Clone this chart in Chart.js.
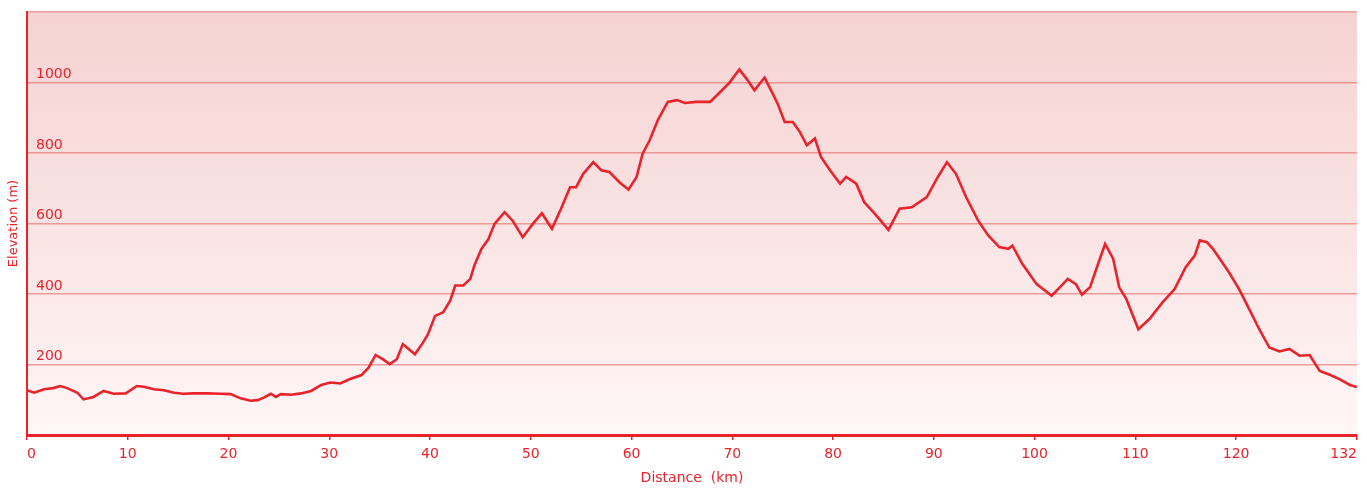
<!DOCTYPE html>
<html>
<head>
<meta charset="utf-8">
<title>Elevation profile</title>
<script src="https://cdn.jsdelivr.net/npm/chart.js@4/dist/chart.umd.min.js"></script>
<style>
  html, body { margin: 0; padding: 0; background: #ffffff; }
  #chart { display: block; }
</style>
</head>
<body>
<canvas id="chart" width="1367" height="488"></canvas>
<script>
// distance along the route (km) and elevation (m)
const distanceKm = [
  0, 0.7, 1.7, 2.6, 3.3, 4.0, 5.0, 5.6, 6.6, 7.6, 8.6, 9.8,
  10.9, 11.6, 12.6, 13.6, 14.6, 15.5, 16.5, 17.9, 19.2, 20.2, 21.2, 22.2,
  22.9, 23.5, 24.2, 24.7, 25.2, 26.2, 27.2, 28.2, 29.2, 30.1, 31.1, 32.0,
  33.2, 33.9, 34.6, 35.3, 36.0, 36.7, 37.3, 38.5, 39.3, 39.8, 40.5, 41.3,
  42.0, 42.5, 43.3, 44.0, 44.4, 45.1, 45.8, 46.4, 47.4, 48.2, 49.2, 50.2,
  51.1, 52.1, 53.0, 53.9, 54.5, 55.2, 56.2, 57.0, 57.8, 58.8, 59.7, 60.5,
  61.1, 61.8, 62.6, 63.6, 64.5, 65.3, 66.4, 67.8, 68.8, 69.7, 70.7, 71.4,
  72.2, 73.2, 74.0, 74.5, 75.2, 76.0, 76.7, 77.4, 78.2, 78.8, 79.7, 80.7,
  81.3, 82.3, 83.1, 84.0, 84.5, 85.5, 86.6, 87.8, 89.3, 90.4, 91.3, 92.2,
  93.2, 94.4, 95.4, 96.5, 97.4, 97.8, 98.8, 100.2, 101.7, 102.5, 103.3, 104.1,
  104.7, 105.5, 106.3, 107.0, 107.8, 108.4, 109.1, 110.3, 111.4, 112.7, 113.9, 115.0,
  115.9, 116.4, 117.1, 117.7, 118.5, 119.3, 120.3, 121.3, 122.3, 123.3, 124.3, 125.3,
  126.3, 127.3, 128.3, 129.3, 130.3, 131.3, 132
];
const elevationM = [
  127, 120, 130, 133, 139, 133, 120, 101, 108, 125, 117, 118,
  139, 137, 130, 127, 120, 117, 118, 118, 117, 116, 104, 97,
  99, 106, 117, 108, 116, 114, 118, 125, 142, 149, 146, 158,
  170, 191, 227, 215, 201, 215, 258, 229, 262, 286, 338, 348,
  381, 424, 424, 443, 481, 528, 556, 599, 632, 608, 561, 599,
  629, 585, 642, 703, 703, 741, 774, 751, 746, 717, 696, 732,
  798, 836, 893, 945, 950, 942, 945, 945, 973, 999, 1037, 1011,
  978, 1014, 969, 940, 888, 888, 860, 822, 841, 789, 751, 713,
  732, 713, 660, 632, 616, 582, 642, 646, 675, 732, 774, 741,
  675, 608, 566, 533, 528, 537, 485, 428, 395, 419, 443, 428,
  398, 419, 485, 542, 500, 419, 386, 300, 329, 376, 414, 476,
  509, 552, 547, 528, 495, 461, 414, 357, 300, 248, 237, 244,
  225, 227, 182, 171, 158, 142, 136
];
const xTicks = [0, 10, 20, 30, 40, 50, 60, 70, 80, 90, 100, 110, 120, 132];
const yTicks = [0, 200, 400, 600, 800, 1000, 1200];

const red = '#e8232b';
const fontFamily = '"DejaVu Sans", Verdana, sans-serif';

// pink wash behind the plot
const plotBackground = {
  id: 'plotBackground',
  beforeDraw(chart) {
    const { ctx, chartArea: a } = chart;
    const g = ctx.createLinearGradient(0, a.top, 0, a.bottom);
    g.addColorStop(0, '#f6d2d2');
    g.addColorStop(0.55, '#fae5e5');
    g.addColorStop(1, '#fff6f6');
    ctx.save();
    ctx.fillStyle = g;
    ctx.fillRect(a.left, a.top, a.right - a.left, a.bottom - a.top);
    ctx.restore();
  }
};

const points = distanceKm.map((d, i) => ({ x: d, y: elevationM[i] }));

new Chart(document.getElementById('chart'), {
  type: 'line',
  data: {
    datasets: [{
      label: 'Elevation',
      data: points,
      borderColor: red,
      borderWidth: 2.6,
      pointRadius: 0,
      tension: 0,
      fill: false
    }]
  },
  options: {
    responsive: false,
    animation: false,
    devicePixelRatio: 1,
    layout: { padding: { top: 12, right: 10, left: 0, bottom: 0 } },
    plugins: {
      legend: { display: false },
      tooltip: { enabled: false }
    },
    scales: {
      x: {
        type: 'linear',
        min: 0,
        max: 132,
        afterBuildTicks: s => { s.ticks = xTicks.map(v => ({ value: v })); },
        afterFit: s => { s.height = 53; s.paddingLeft = 0; s.paddingRight = 0; },
        border: { display: true, color: red, width: 3 },
        grid: { drawOnChartArea: false, drawTicks: true, tickLength: 5, color: red, lineWidth: 1.5 },
        ticks: {
          align: 'inner',
          color: red,
          padding: 6,
          maxRotation: 0,
          font: { family: fontFamily, size: 14 }
        },
        title: {
          display: true,
          text: 'Distance  (km)',
          color: red,
          padding: { top: 2, bottom: 1 },
          font: { family: fontFamily, size: 14 }
        }
      },
      y: {
        min: 0,
        max: 1200,
        afterBuildTicks: s => { s.ticks = yTicks.map(v => ({ value: v })); },
        afterFit: s => { s.width = 27; s.paddingTop = 0; s.paddingBottom = 0; },
        border: { display: true, color: red, width: 2 },
        grid: {
          drawTicks: false,
          color: 'rgba(228, 100, 100, 0.6)',
          lineWidth: 1.5
        },
        ticks: {
          mirror: true,
          padding: 9,
          labelOffset: -8,
          color: red,
          font: { family: fontFamily, size: 14 },
          callback: v => (v === 0 || v === 1200) ? '' : v
        },
        title: {
          display: true,
          text: 'Elevation (m)',
          color: red,
          padding: { top: 6, bottom: 0 },
          font: { family: fontFamily, size: 13 }
        }
      }
    }
  },
  plugins: [plotBackground]
});
</script>
</body>
</html>
